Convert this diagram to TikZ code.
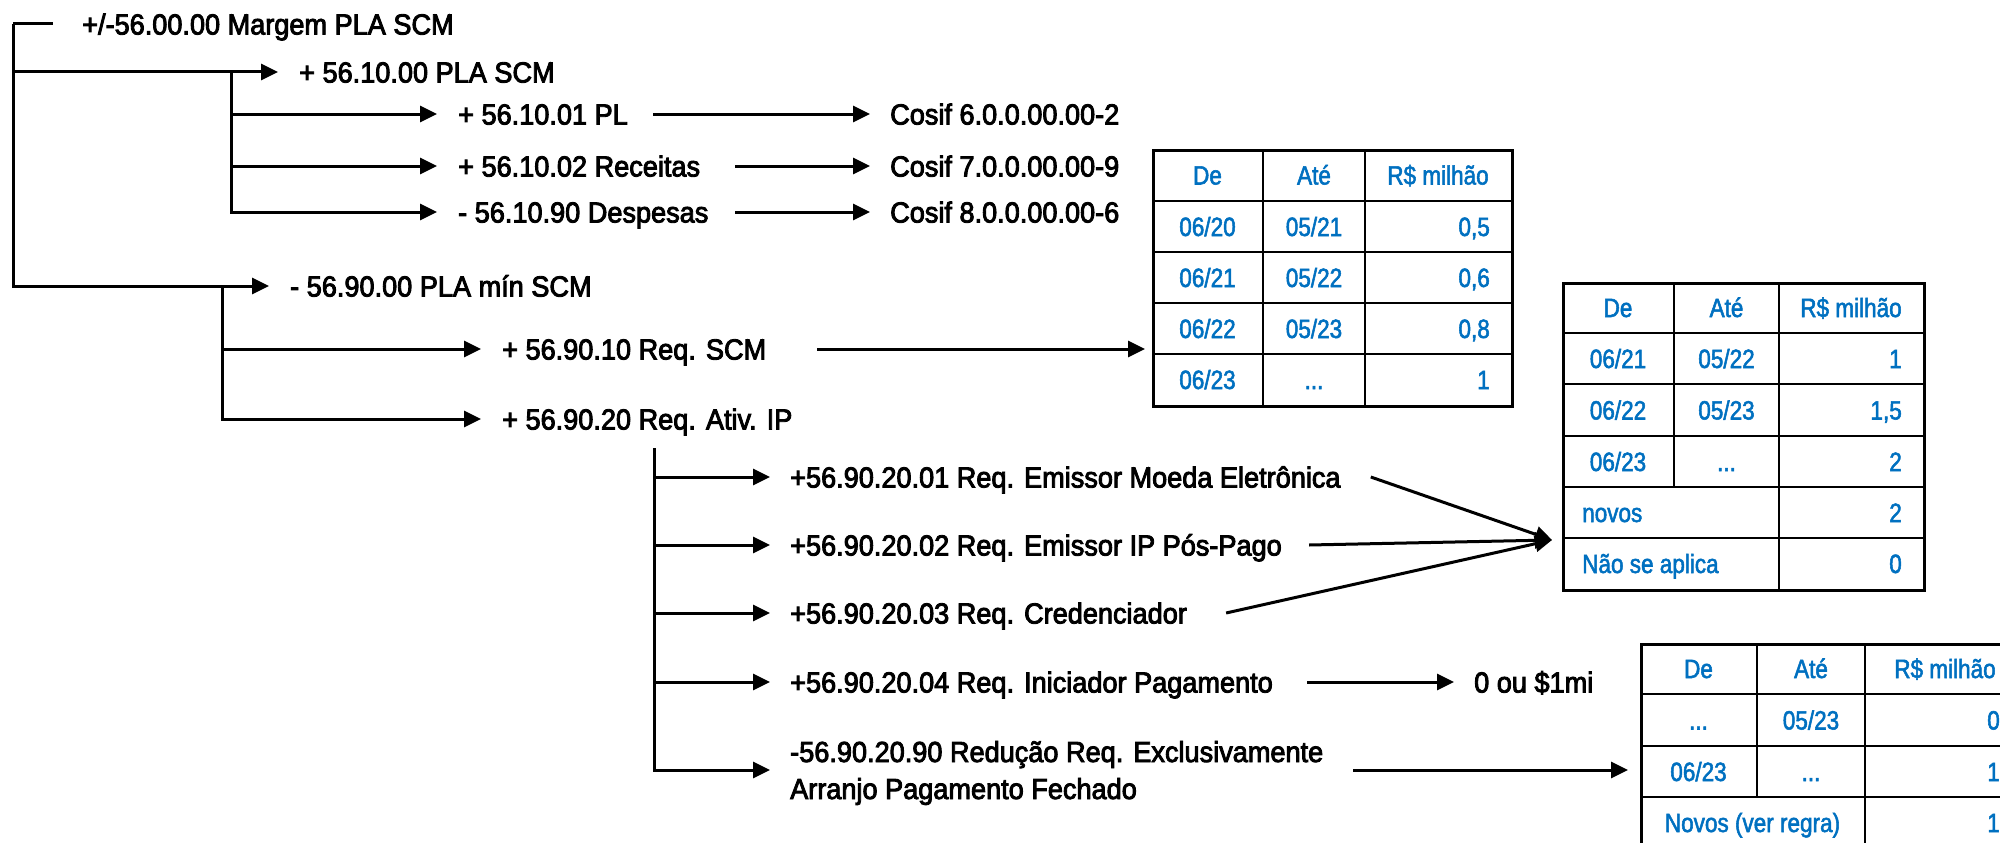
\documentclass[tikz,border=0pt]{standalone}
\usepackage{fontspec}
\setmainfont{Liberation Sans}
\newfontfamily\treefont{Liberation Sans}[FakeStretch=0.935, FakeBold=3]
\newfontfamily\tabfont{Liberation Sans}[FakeStretch=0.85, FakeBold=2]
\usetikzlibrary{arrows.meta}
\definecolor{tabblue}{RGB}{0,112,192}

\begin{document}
\begin{tikzpicture}[x=1pt, y=-1pt,
    wire/.style={line width=3pt},
    arr/.style={wire, -{Triangle[length=17pt,width=16pt]}, shorten >=21pt},
    lbl/.style={anchor=west, inner sep=0pt, text height=21pt, text depth=0pt,
        font={\treefont\fontsize{29}{37}\selectfont}},
    tabframe/.style={draw, line width=2.8pt, anchor=north west, inner sep=0pt},
    tabline/.style={line width=2.8pt},
    tabcell/.style={inner sep=0pt, text height=19pt, text depth=0pt, text=tabblue,
        font={\tabfont\fontsize{26.5}{30}\selectfont}}]
    \useasboundingbox (0,0) rectangle (2000,843);
    \clip (0,0) rectangle (2000,843);

    %! --- Margem PLA SCM ---
    \coordinate (root) at (13,24);
    \node[lbl] (m00) at (82,24) {+/-56.00.00 Margem PLA SCM};
    \node[lbl] (m10) at (299,72) {+ 56.10.00 PLA SCM};
    \node[lbl] (m90) at (290,286) {- 56.90.00 PLA mín SCM};
    \draw[wire] (root) -- ([xshift=-29]m00.west);
    \draw[arr] (root) |- (m10.west);
    \draw[arr] (root) |- (m90.west);

    % PLA SCM (56.10)
    \coordinate (s10) at (231,72);
    \foreach \n/\y/\t in {pl/114/{+ 56.10.01 PL}, rec/166/{+ 56.10.02 Receitas}, des/212/{- 56.10.90 Despesas}} {
        \node[lbl] (\n) at (458,\y) {\t};
        \draw[arr] (s10) |- (\n.west);
    }
    % Cosif accounts
    \node[lbl] (c6) at (890,114) {Cosif 6.0.0.00.00-2};
    \node[lbl] (c7) at (890,166) {Cosif 7.0.0.00.00-9};
    \node[lbl] (c8) at (890,212) {Cosif 8.0.0.00.00-6};
    \coordinate (cx) at (735,0);
    \draw[arr, shorten >=20pt] ([xshift=25]pl.east) -- (c6.west);
    \draw[arr, shorten >=20pt] (cx |- rec.east) -- (c7.west);
    \draw[arr, shorten >=20pt] (cx |- des.east) -- (c8.west);

    % PLA min SCM (56.90)
    \coordinate (s90) at (222,286);
    \node[lbl] (scm) at (502,349) {+ 56.90.10 Req. SCM};
    \node[lbl] (ativ) at (502,419) {+ 56.90.20 Req. Ativ. IP};
    \draw[arr] (s90) |- (scm.west);
    \draw[arr] (s90) |- (ativ.west);

    % Req. Ativ. IP (56.90.20)
    \coordinate (s20) at (654,448);
    \foreach \n/\y/\t in {a01/477/{+56.90.20.01 Req. Emissor Moeda Eletrônica},
                          a02/545/{+56.90.20.02 Req. Emissor IP Pós-Pago},
                          a03/613/{+56.90.20.03 Req. Credenciador},
                          a04/682/{+56.90.20.04 Req. Iniciador Pagamento}} {
        \node[lbl] (\n) at (790,\y) {\t};
        \draw[arr, shorten >=20pt] (s20) |- (\n.west);
    }
    \node[lbl, text height=58pt, text depth=0pt, align=left] (a90) at (790,770)
        {-56.90.20.90 Redução Req. Exclusivamente\\Arranjo Pagamento Fechado};
    \draw[arr, shorten >=20pt] (s20) |- (a90.west);
    \node[lbl] (ou) at (1474,682) {0 ou \$1mi};
    \draw[arr, shorten >=20pt] ([xshift=34]a04.east) -- (ou.west);

    %! --- Tabela Req. SCM ---
    \node[tabframe, minimum width=359, minimum height=256] (tabA) at (1152,149) {};
    \foreach \y in {201,252,303,354} \draw[tabline] (1152,\y) -- (1511,\y);
    \foreach \x in {1263,1365} \draw[tabline] (\x,149) -- (\x,405);
    \node[tabcell] (ta-de) at (1207.5,175) {De};
    \node[tabcell] (ta-ate) at (1314,175) {Até};
    \node[tabcell] (ta-rs) at (1438,175) {R\$ milhão};
    \foreach \y/\a/\b/\v [count=\k] in {226.5/{06/20}/{05/21}/{0,5}, 277.5/{06/21}/{05/22}/{0,6},
                                        328.5/{06/22}/{05/23}/{0,8}, 379.5/{06/23}/{...}/1} {
        \node[tabcell] (ta-a\k) at (1207.5,\y) {\a};
        \node[tabcell] (ta-b\k) at (1314,\y) {\b};
        \node[tabcell, anchor=east] (ta-c\k) at (1490,\y) {\v};
    }
    \draw[arr, shorten >=7pt] ([xshift=51]scm.east) -- (scm.east -| tabA.west);

    %! --- Tabela IP ---
    \node[tabframe, minimum width=361, minimum height=307] (tabB) at (1562,282) {};
    \foreach \y in {333,384,436,487,538} \draw[tabline] (1562,\y) -- (1923,\y);
    \draw[tabline] (1674,282) -- (1674,487);
    \draw[tabline] (1779,282) -- (1779,589);
    \node[tabcell] (tb-de) at (1618,307.5) {De};
    \node[tabcell] (tb-ate) at (1726.5,307.5) {Até};
    \node[tabcell] (tb-rs) at (1851,307.5) {R\$ milhão};
    \foreach \y/\a/\b/\v [count=\k] in {358.5/{06/21}/{05/22}/1, 410/{06/22}/{05/23}/{1,5}, 461.5/{06/23}/{...}/2} {
        \node[tabcell] (tb-a\k) at (1618,\y) {\a};
        \node[tabcell] (tb-b\k) at (1726.5,\y) {\b};
        \node[tabcell, anchor=east] (tb-c\k) at (1902,\y) {\v};
    }
    \node[tabcell, anchor=west] (tb-nov) at (1582,512.5) {novos};
    \node[tabcell, anchor=east] (tb-nov2) at (1902,512.5) {2};
    \node[tabcell, anchor=west] (tb-nsa) at (1582,563.5) {Não se aplica};
    \node[tabcell, anchor=east] (tb-nsa0) at (1902,563.5) {0};
    \coordinate (meet) at (1552,540);
    \draw[arr, shorten >=0pt] ([xshift=30]a01.east) -- (meet);
    \draw[arr, shorten >=0pt] ([xshift=27]a02.east) -- (meet);
    \draw[arr, shorten >=0pt] ([xshift=39]a03.east) -- (meet);

    %! --- Tabela Arranjo Fechado ---
    \node[tabframe, minimum width=385, minimum height=205] (tabC) at (1640,643) {};
    \foreach \y in {694,746,797} \draw[tabline] (1640,\y) -- (2025,\y);
    \draw[tabline] (1757,643) -- (1757,797);
    \draw[tabline] (1865,643) -- (1865,848);
    \node[tabcell] (tc-de) at (1698.5,668.5) {De};
    \node[tabcell] (tc-ate) at (1811,668.5) {Até};
    \node[tabcell] (tc-rs) at (1945,668.5) {R\$ milhão};
    \foreach \y/\a/\b/\v [count=\k] in {720/{...}/{05/23}/0, 771.5/{06/23}/{...}/1} {
        \node[tabcell] (tc-a\k) at (1698.5,\y) {\a};
        \node[tabcell] (tc-b\k) at (1811,\y) {\b};
        \node[tabcell, anchor=east] (tc-c\k) at (2000,\y) {\v};
    }
    \node[tabcell] (tc-nov) at (1752.5,822.5) {Novos (ver regra)};
    \node[tabcell, anchor=east] (tc-nov1) at (2000,822.5) {1};
    \draw[arr, shorten >=12pt] ([xshift=30]a90.east) -- (a90.east -| tabC.west);
\end{tikzpicture}
\end{document}
